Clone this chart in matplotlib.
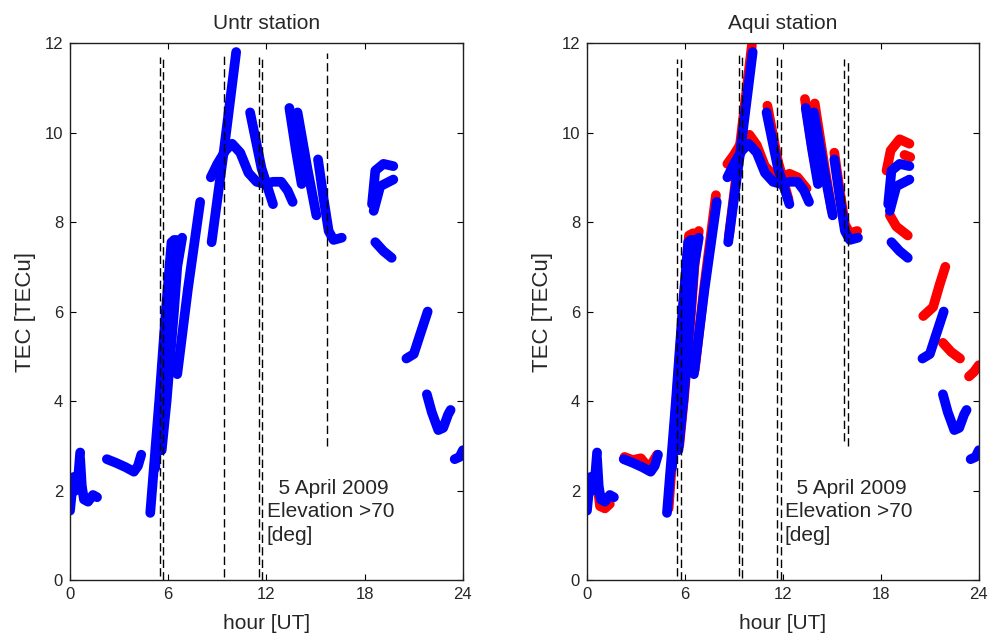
import numpy as np
import matplotlib
matplotlib.use("Agg")
import matplotlib.pyplot as plt

plt.rcParams['font.family'] = ['Liberation Sans', 'DejaVu Sans']
plt.rcParams['font.size'] = 12

# satellite arcs (hour UT, TEC)
# blue = reference arcs, shown on both panels
blue_arcs = [
    [(0.0, 1.55), (0.2, 2.3), (0.35, 2.0), (0.5, 2.3), (0.62, 2.85)],
    [(0.62, 2.7), (0.72, 2.1), (0.85, 1.8), (1.1, 1.75), (1.4, 1.9), (1.65, 1.85)],
    [(2.25, 2.7), (2.8, 2.62), (3.4, 2.52), (3.9, 2.42), (4.15, 2.55), (4.35, 2.8)],
    [(4.9, 1.5), (5.45, 4.0), (5.85, 6.0), (6.2, 7.55), (6.5, 7.6)],
    [(5.2, 2.5), (5.65, 4.5), (6.05, 6.3), (6.35, 7.6)],
    [(5.6, 2.9), (5.9, 4.0), (6.35, 6.0), (6.55, 7.0), (6.85, 7.65)],
    [(6.55, 4.6), (7.2, 6.5), (7.95, 8.45)],
    [(8.65, 7.55), (9.4, 9.6), (10.15, 11.8)],
    [(8.6, 9.0), (9.0, 9.3), (9.5, 9.6), (9.9, 9.75), (10.4, 9.55), (10.9, 9.1),
     (11.4, 8.9), (11.9, 8.85), (12.4, 8.9), (12.9, 8.9), (13.3, 8.7), (13.6, 8.45)],
    [(11.0, 10.45), (11.7, 9.2), (12.4, 8.4)],
    [(13.4, 10.55), (13.8, 9.6), (14.15, 8.85)],
    [(13.9, 10.45), (14.5, 9.2), (15.05, 8.15)],
    [(15.15, 9.4), (15.5, 8.5), (15.8, 7.8), (16.1, 7.6), (16.6, 7.65)],
    [(18.45, 8.4), (18.65, 9.15), (19.15, 9.3), (19.75, 9.25)],
    [(18.55, 8.25), (18.95, 8.8), (19.75, 8.95)],
    [(18.65, 7.55), (19.15, 7.35), (19.65, 7.2)],
    [(20.55, 4.95), (21.0, 5.05), (21.4, 5.5), (21.85, 6.0)],
    [(21.8, 4.15), (22.1, 3.75), (22.5, 3.35), (22.8, 3.4), (23.1, 3.7), (23.25, 3.8)],
    [(23.5, 2.7), (23.8, 2.75), (24.0, 2.9)],
]

# red = Aqui station arcs
red_arcs = [
    [(0.65, 2.1), (0.8, 1.65), (1.1, 1.6), (1.4, 1.7)],
    [(2.3, 2.75), (2.8, 2.68), (3.3, 2.72), (3.8, 2.5), (4.3, 2.8)],
    [(5.0, 1.6), (5.5, 4.1), (5.9, 6.1), (6.25, 7.7), (6.5, 7.75)],
    [(5.65, 3.0), (5.95, 4.1), (6.4, 6.1), (6.6, 7.1), (6.85, 7.8)],
    [(6.6, 4.7), (7.2, 6.6), (7.9, 8.6)],
    [(8.7, 7.7), (9.4, 9.8), (10.1, 11.95)],
    [(8.6, 9.3), (9.0, 9.5), (9.5, 9.8), (9.95, 9.95), (10.4, 9.72), (10.9, 9.25),
     (11.4, 9.05), (11.9, 9.0), (12.4, 9.08), (12.9, 9.0), (13.45, 8.75)],
    [(11.05, 10.6), (11.7, 9.35), (12.35, 8.5)],
    [(13.35, 10.75), (13.75, 9.75), (14.15, 8.95)],
    [(13.95, 10.65), (14.5, 9.35), (15.0, 8.25)],
    [(15.15, 9.55), (15.5, 8.65), (15.8, 7.95), (16.1, 7.75), (16.55, 7.8)],
    [(18.35, 9.15), (18.6, 9.6), (19.15, 9.85), (19.75, 9.75)],
    [(19.45, 9.5), (19.8, 9.45)],
    [(18.55, 8.15), (18.95, 7.9), (19.65, 7.7)],
    [(20.6, 5.9), (21.2, 6.1), (21.6, 6.6), (21.95, 7.0)],
    [(21.8, 5.3), (22.3, 5.1), (22.85, 4.95)],
    [(23.4, 4.55), (23.7, 4.65), (24.0, 4.8)],
]

# dashed markers: (hour, ymin, ymax)
untr_lines = [(5.5, 0.1, 11.7), (5.7, 0.0, 11.7), (9.4, 0.07, 11.78),
              (11.55, 0.07, 11.7), (11.75, 0.0, 11.7), (15.67, 3.0, 11.78)]
aqui_lines = [(5.53, 0.1, 11.65), (5.74, 0.0, 11.65), (9.31, 0.1, 11.75), (9.51, 0.05, 11.7),
              (11.61, 0.05, 11.7), (11.86, 0.0, 11.7), (15.75, 3.1, 11.65), (15.96, 3.0, 11.65)]

xticks = [0, 6, 12, 18, 24]
yticks = [0, 2, 4, 6, 8, 10, 12]
titles = ["Untr station", "Aqui station"]
note = "  5 April 2009\nElevation >70\n[deg]"

txt = '#262626'
fig = plt.figure(figsize=(9.92, 6.43), dpi=100)
ax1 = fig.add_axes([0.0706, 0.098, 0.396, 0.835])
ax2 = fig.add_axes([0.5917, 0.098, 0.395, 0.835])


def draw_arcs(ax, arcs, color):
    for arc in arcs:
        h = [p[0] for p in arc]
        v = [p[1] for p in arc]
        ax.plot(h, v, color=color, lw=7, solid_capstyle='round',
                solid_joinstyle='round', zorder=2)


for ax, title, lines in [(ax1, titles[0], untr_lines), (ax2, titles[1], aqui_lines)]:
    if ax is ax2:
        draw_arcs(ax, red_arcs, (1, 0, 0))
    draw_arcs(ax, blue_arcs, (0, 0, 1))
    for x, y0, y1 in lines:
        ax.plot([x, x], [y0, y1], color='black', lw=1, dashes=(6, 3), zorder=3)
    ax.set_xlim(0, 24)
    ax.set_ylim(0, 12)
    ax.set_xticks(xticks)
    ax.set_yticks(yticks)
    ax.tick_params(direction='in', length=4, top=True, right=True,
                   labelsize=12, labelcolor=txt, pad=5)
    for s in ax.spines.values():
        s.set_linewidth(1)
        s.set_color('#202020')
    ax.set_title(title, fontsize=15, color=txt, pad=10)
    ax.set_xlabel("hour [UT]", fontsize=15, color=txt, labelpad=9)
    ax.set_ylabel("TEC [TECu]", fontsize=16, color=txt, labelpad=6)
    ax.text(12.03 if ax is ax1 else 12.12, 1.52, note, fontsize=15, color=txt,
            ha='left', va='center', linespacing=1.3, zorder=4)

fig.savefig("out.png", dpi=100)
